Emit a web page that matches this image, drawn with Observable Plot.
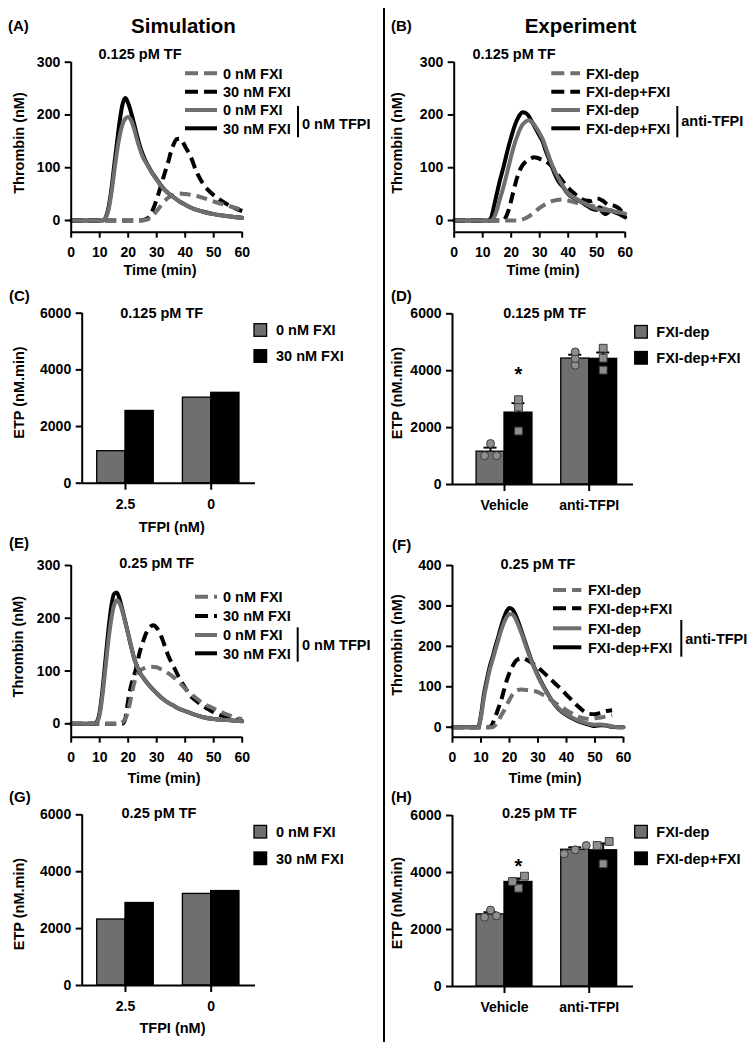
<!DOCTYPE html>
<html>
<head>
<meta charset="utf-8">
<script src="https://cdn.jsdelivr.net/npm/d3@7"></script>
<script src="https://cdn.jsdelivr.net/npm/@observablehq/plot@0.6"></script>
<style>
  body { margin: 0; background: #fff; }
  #fig { position: relative; width: 756px; height: 1050px; overflow: hidden; background: #fff; }
  #fig .panel { position: absolute; }
</style>
</head>
<body>
<div id="fig"></div>
<script>
// ---------------- tick labels ----------------
const timeTicks = [0, 10, 20, 30, 40, 50, 60];
const thrombinTicks300 = [0, 100, 200, 300];
const thrombinTicks400 = [0, 100, 200, 300, 400];
const etpTicks = [0, 2000, 4000, 6000];

// ---------------- categories ----------------
const simGroups = ["2.5", "0"];              // TFPI (nM)
const simSeries = ["0 nM FXI", "30 nM FXI"];
const expGroups = ["Vehicle", "anti-TFPI"];
const expSeries = ["FXI-dep", "FXI-dep+FXI"];

// ---------------- (A) simulation, 0.125 pM TF : [time (min), thrombin (nM)] ----------------
const A_0FXI = [[0,0],[24,0],[26,1],[28,6],[30,18],[32,32],[34,43],[36,49],[38,51],[40,50],[45,45],[50,36],[55,28],[60,20]];
const A_30FXI = [[0,0],[24,0],[26,2],[28,12],[29,25],[30,40],[31,57],[32,75],[33,93],[34,110],[35,130],[36,145],[37,154],[38,155],[39,150],[40,140],[42,120],[44,92],[46,72],[48,58],[50,48],[52,40],[55,30],[58,22],[60,18]];
const A_0FXI_noTFPI = [[0,0],[11,0],[12,4],[13,18],[14,48],[15,88],[16,128],[17,160],[18,182],[19,193],[20,196],[21,190],[22,175],[23,155],[24,137],[25,122],[26,112],[27,103],[28,93],[30,77],[32,62],[34,52],[36,44],[38,36],[40,30],[43,22],[46,17],[50,12],[55,8],[60,5]];
const A_30FXI_noTFPI = [[0,0],[11,0],[12,5],[13,22],[14,55],[15,100],[16,145],[17,188],[18,220],[19,232],[20,222],[21,205],[22,185],[23,163],[24,143],[25,127],[26,114],[27,104],[28,94],[30,78],[32,63],[34,52],[36,44],[38,36],[40,30],[43,22],[46,17],[50,12],[55,8],[60,5]];

// ---------------- (B) experiment, 0.125 pM TF ----------------
const B_FXIdep = [[0,0],[22,0],[24,2],[26,7],[28,15],[30,24],[32,31],[34,36],[36,39],[38,40],[40,38],[42,35],[44,32],[46,30],[48,28],[50,26],[52,24],[54,20],[56,18],[58,15],[60,12]];
const B_FXIdepFXI = [[0,0],[17,0],[18,5],[19,18],[20,38],[21,60],[22,80],[23,95],[24,105],[25,111],[26,115],[27,118],[28,120],[29,119],[30,117],[32,113],[34,104],[36,90],[38,75],[40,62],[42,52],[44,43],[46,38],[48,37],[50,42],[52,38],[54,30],[56,28],[58,22],[60,6]];
const B_FXIdep_antiTFPI = [[0,0],[13,0],[14,6],[15,20],[16,40],[17,58],[18,78],[19,100],[20,122],[21,142],[22,158],[23,172],[24,182],[25,187],[26,190],[27,188],[28,182],[29,174],[30,165],[31,155],[32,140],[33,125],[34,110],[35,97],[36,86],[37,76],[38,67],[39,58],[40,51],[42,44],[44,37],[46,32],[48,26],[50,22],[52,20],[54,19],[56,17],[58,15],[60,13]];
const B_FXIdepFXI_antiTFPI = [[0,0],[12,0],[13,6],[14,28],[15,52],[16,75],[17,95],[18,117],[19,139],[20,158],[21,176],[22,190],[23,200],[24,205],[25,204],[26,199],[27,190],[28,180],[29,170],[30,160],[31,150],[32,134],[33,120],[34,106],[35,92],[36,80],[37,71],[38,65],[39,57],[40,50],[42,43],[44,37],[46,30],[48,23],[50,20],[51,25],[52,16],[53,12],[54,15],[55,19],[56,16],[58,12],[60,6]];

// ---------------- (C) simulation ETP, 0.125 pM TF (per TFPI group) ----------------
const C_0FXI = [1130, 3020];
const C_30FXI = [2550, 3190];

// ---------------- (D) experiment ETP, 0.125 pM TF : replicates per group ----------------
const D_FXIdep = [[1010, 1010, 1440], [4190, 4430, 4660]];
const D_FXIdepFXI = [[1880, 2720, 2980], [4020, 4440, 4790]];
const D_sig = [{group: 0, series: 1, y: 3850, label: "*"}];

// ---------------- (E) simulation, 0.25 pM TF ----------------
const E_0FXI = [[0,0],[17,0],[18,3],[19,10],[20,25],[21,50],[22,75],[23,92],[24,100],[26,106],[28,108],[30,107],[32,102],[34,96],[36,88],[38,78],[40,67],[42,57],[44,48],[46,40],[48,34],[50,29],[52,24],[54,19],[56,15],[58,11],[60,9]];
const E_30FXI = [[0,0],[18,0],[19,10],[20,45],[21,72],[22,90],[23,110],[24,135],[25,152],[26,168],[27,178],[28,185],[29,187],[30,182],[31,173],[32,160],[33,145],[34,130],[36,108],[38,86],[40,68],[42,52],[44,43],[46,35],[48,28],[50,22],[52,17],[54,14],[56,10],[58,8],[60,5]];
const E_0FXI_noTFPI = [[0,0],[8,0],[9,3],[10,18],[11,55],[12,105],[13,155],[14,196],[15,224],[16,234],[17,228],[18,212],[19,192],[20,170],[21,148],[22,125],[23,110],[24,98],[26,82],[28,69],[30,58],[32,48],[34,40],[36,34],[38,28],[40,24],[43,18],[46,13],[50,9],[55,7],[60,5]];
const E_30FXI_noTFPI = [[0,0],[8,0],[9,4],[10,22],[11,65],[12,120],[13,175],[14,220],[15,246],[16,249],[17,236],[18,215],[19,193],[20,170],[21,147],[22,126],[23,110],[24,98],[26,82],[28,69],[30,58],[32,48],[34,40],[36,34],[38,28],[40,24],[43,18],[46,13],[50,9],[55,7],[60,5]];

// ---------------- (F) experiment, 0.25 pM TF ----------------
const F_FXIdep = [[0,0],[14,0],[15,5],[16,15],[17,28],[18,40],[19,55],[20,68],[21,80],[22,88],[23,92],[24,93],[26,92],[28,90],[30,87],[32,79],[34,70],[36,60],[38,52],[40,42],[42,34],[44,26],[46,22],[48,20],[50,22],[52,24],[54,27],[56,30]];
const F_FXIdepFXI = [[0,0],[13,0],[14,8],[15,25],[16,45],[17,65],[18,90],[19,115],[20,135],[21,150],[22,162],[23,168],[24,170],[25,170],[26,167],[28,158],[30,148],[32,135],[34,122],[36,108],[38,95],[40,80],[42,66],[44,52],[46,40],[48,33],[50,32],[52,36],[54,40],[56,42]];
const F_FXIdep_antiTFPI = [[0,0],[9,0],[10,25],[11,72],[12,108],[13,140],[14,165],[15,190],[16,214],[17,238],[18,258],[19,272],[20,280],[21,279],[22,270],[23,254],[24,236],[26,196],[28,158],[30,125],[32,98],[34,75],[36,56],[38,42],[40,32],[42,24],[44,17],[46,12],[48,8],[50,6],[52,7],[54,5],[56,2],[58,0],[60,0]];
const F_FXIdepFXI_antiTFPI = [[0,0],[9,0],[10,30],[11,80],[12,116],[13,148],[14,172],[15,198],[16,222],[17,248],[18,270],[19,287],[20,295],[21,292],[22,280],[23,262],[24,242],[26,200],[28,160],[30,128],[32,100],[34,76],[36,55],[38,40],[40,30],[42,22],[44,15],[46,10],[48,6],[50,3],[52,5],[54,4],[56,1],[58,0],[60,0]];

// ---------------- (G) simulation ETP, 0.25 pM TF ----------------
const G_0FXI = [2320, 3220];
const G_30FXI = [2900, 3320];

// ---------------- (H) experiment ETP, 0.25 pM TF ----------------
const H_FXIdep = [[2430, 2680, 2480], [4655, 4947, 4795]];
const H_FXIdepFXI = [[3871, 3450, 3684], [5088, 4947, 4304]];
const H_sig = [{group: 0, series: 1, y: 4200, label: "*"}];

// ================= rendering =================
const FONT = "'Liberation Sans', Arial, Helvetica, sans-serif";
const GREY = "#6f6f6f";
const BLACK = "#000000";
const PT_FILL = "#8e8e8e";
const PT_STROKE = "#3a3a3a";
const fig = document.getElementById("fig");
const plotStyle = `font-family: ${FONT}; font-size: 14px; font-weight: bold; color: #000; background: none; overflow: visible;`;

function place(svg, left, top, width, height) {
  const div = document.createElement("div");
  div.className = "panel";
  div.style.left = left + "px";
  div.style.top = top + "px";
  div.style.width = width + "px";
  div.style.height = height + "px";
  div.appendChild(svg);
  fig.appendChild(div);
}

function linePanel(c) {
  const {left, top, width, height, fx0, fx1, fy0, fy1, yDomain, yTicks, series} = c;
  const marks = series.map(s => Plot.line(s.data, {
    x: d => d[0], y: d => d[1], stroke: s.color, strokeWidth: 4,
    curve: "monotone-x",
    ...(s.dash ? {strokeDasharray: "11,6", strokeLinecap: "butt"} : {})
  }));
  marks.push(
    Plot.ruleX([0], {y1: () => yDomain[0], y2: () => yDomain[1], strokeWidth: 2}),
    Plot.ruleY([yDomain[0]], {x1: () => 0, x2: () => 60, strokeWidth: 2}),
    Plot.axisY(yTicks, {tickSize: 6, tickPadding: 5, strokeWidth: 2, label: null, tickFormat: d => String(d), fontSize: 14, fontWeight: "bold"}),
    Plot.axisX(timeTicks, {tickSize: 6, tickPadding: 9, strokeWidth: 2, label: null, tickFormat: d => String(d), fontSize: 14, fontWeight: "bold"})
  );
  const svg = Plot.plot({
    width, height,
    marginLeft: fx0 - left, marginRight: left + width - fx1,
    marginTop: fy0 - top, marginBottom: top + height - fy1,
    x: {domain: [0, 60]},
    y: {domain: yDomain},
    style: plotStyle,
    marks
  });
  place(svg, left, top, width, height);
}

function swarmOffsets(values, pxY) {
  const idx = values.map((v, i) => i).sort((a, b) => values[a] - values[b]);
  const clusters = [];
  let cur = [];
  idx.forEach(i => {
    if (cur.length && (values[i] - values[cur[cur.length - 1]]) * pxY >= 5.5) { clusters.push(cur); cur = []; }
    cur.push(i);
  });
  if (cur.length) clusters.push(cur);
  const off = new Array(values.length).fill(0);
  clusters.forEach(cl => cl.forEach((i, j) => { off[i] = (j - (cl.length - 1) / 2) * (cl.length > 2 ? 11 : 12); }));
  return off;
}

function barPanel(c) {
  const {left, top, width, height, fx0, fx1, fy0, fy1, groups, values, reps, sig, xDomain} = c;
  const BW = 0.33;
  const pxX = (fx1 - fx0) / (xDomain[1] - xDomain[0]);
  const pxY = (fy1 - fy0) / 6000;
  const rows = [];
  groups.forEach((g, gi) => [0, 1].forEach(si => {
    const r = reps ? reps[si][gi] : null;
    const mean = r ? d3.mean(r) : values[si][gi];
    const sem = r ? d3.deviation(r) / Math.sqrt(r.length) : 0;
    rows.push({gi, si, mean, sem, reps: r, center: gi + (si - 0.5) * BW});
  }));
  const rectOpts = {x1: d => d.gi + (d.si - 1) * BW, x2: d => d.gi + d.si * BW, y1: () => 0, y2: d => d.mean, stroke: BLACK, strokeWidth: 1.3};
  const marks = [
    Plot.rect(rows.filter(d => d.si === 0), {...rectOpts, fill: GREY}),
    Plot.rect(rows.filter(d => d.si === 1), {...rectOpts, fill: BLACK})
  ];
  if (reps) {
    const capHalf = 6.5 / pxX;
    marks.push(
      Plot.ruleX(rows, {x: d => d.center, y1: d => d.mean, y2: d => d.mean + d.sem, stroke: BLACK, strokeWidth: 2}),
      Plot.ruleY(rows, {y: d => d.mean + d.sem, x1: d => d.center - capHalf, x2: d => d.center + capHalf, stroke: BLACK, strokeWidth: 2})
    );
    const pts = rows.flatMap(r => {
      const off = swarmOffsets(r.reps, pxY);
      return r.reps.map((v, k) => ({x: r.center + off[k] / pxX, v, si: r.si}));
    });
    marks.push(
      Plot.dot(pts.filter(p => p.si === 0), {x: "x", y: "v", r: 4, fill: PT_FILL, stroke: PT_STROKE, strokeWidth: 1}),
      Plot.dot(pts.filter(p => p.si === 1), {x: "x", y: "v", r: 4.4, symbol: "square", fill: PT_FILL, stroke: PT_STROKE, strokeWidth: 1})
    );
  }
  if (sig) {
    marks.push(Plot.text(sig, {x: d => d.group + (d.series - 0.5) * BW, y: d => d.y, text: d => d.label, fontSize: 20, fontWeight: "bold", fill: BLACK}));
  }
  marks.push(
    Plot.ruleX([xDomain[0]], {y1: () => 0, y2: () => 6000, strokeWidth: 2}),
    Plot.ruleY([0], {x1: () => xDomain[0], x2: () => xDomain[1], strokeWidth: 2}),
    Plot.axisY(etpTicks, {tickSize: 6, tickPadding: 5, strokeWidth: 2, label: null, tickFormat: d => String(d), fontSize: 14, fontWeight: "bold"}),
    Plot.axisX(groups.map((g, i) => i), {tickSize: 7, tickPadding: 9, strokeWidth: 2, label: null, tickFormat: i => groups[i], fontSize: 14, fontWeight: "bold"})
  );
  const svg = Plot.plot({
    width, height,
    marginLeft: fx0 - left, marginRight: left + width - fx1,
    marginTop: fy0 - top, marginBottom: top + height - fy1,
    x: {domain: xDomain},
    y: {domain: [0, 6000]},
    style: plotStyle,
    marks
  });
  place(svg, left, top, width, height);
}

// ---- line panels ----
linePanel({left: 0, top: 45, width: 260, height: 235, fx0: 70.7, fx1: 241.7, fy0: 61.7, fy1: 231.7,
  yDomain: [-22.2, 300], yTicks: thrombinTicks300,
  series: [
    {data: A_30FXI, color: BLACK, dash: true},
    {data: A_0FXI, color: GREY, dash: true},
    {data: A_30FXI_noTFPI, color: BLACK},
    {data: A_0FXI_noTFPI, color: GREY}
  ]});
linePanel({left: 378, top: 45, width: 270, height: 235, fx0: 453.7, fx1: 624.7, fy0: 61.7, fy1: 231.7,
  yDomain: [-22.2, 300], yTicks: thrombinTicks300,
  series: [
    {data: B_FXIdepFXI, color: BLACK, dash: true},
    {data: B_FXIdep, color: GREY, dash: true},
    {data: B_FXIdepFXI_antiTFPI, color: BLACK},
    {data: B_FXIdep_antiTFPI, color: GREY}
  ]});
linePanel({left: 0, top: 550, width: 260, height: 230, fx0: 70.7, fx1: 241.7, fy0: 565, fy1: 736.7,
  yDomain: [-25.4, 300], yTicks: thrombinTicks300,
  series: [
    {data: E_30FXI, color: BLACK, dash: true},
    {data: E_0FXI, color: GREY, dash: true},
    {data: E_30FXI_noTFPI, color: BLACK},
    {data: E_0FXI_noTFPI, color: GREY}
  ]});
linePanel({left: 378, top: 550, width: 270, height: 230, fx0: 452, fx1: 623, fy0: 565, fy1: 736.7,
  yDomain: [-24.7, 400], yTicks: thrombinTicks400,
  series: [
    {data: F_FXIdepFXI, color: BLACK, dash: true},
    {data: F_FXIdep, color: GREY, dash: true},
    {data: F_FXIdepFXI_antiTFPI, color: BLACK},
    {data: F_FXIdep_antiTFPI, color: GREY}
  ]});

// ---- bar panels ----
barPanel({left: 0, top: 300, width: 270, height: 220, fx0: 81.7, fx1: 255, fy0: 312.7, fy1: 482.7,
  groups: simGroups, values: [C_0FXI, C_30FXI], xDomain: [-0.505, 1.517]});
barPanel({left: 378, top: 300, width: 270, height: 220, fx0: 452, fx1: 633, fy0: 313.3, fy1: 484,
  groups: expGroups, reps: [D_FXIdep, D_FXIdepFXI], sig: D_sig, xDomain: [-0.614, 1.523]});
barPanel({left: 0, top: 800, width: 270, height: 230, fx0: 81.7, fx1: 255, fy0: 814.3, fy1: 985,
  groups: simGroups, values: [G_0FXI, G_30FXI], xDomain: [-0.505, 1.517]});
barPanel({left: 378, top: 800, width: 270, height: 230, fx0: 452, fx1: 633, fy0: 815, fy1: 986,
  groups: expGroups, reps: [H_FXIdep, H_FXIdepFXI], sig: H_sig, xDomain: [-0.614, 1.523]});

// ================= overlay: titles, labels, legends =================
const ov = d3.select(fig).append("svg")
  .attr("width", 756).attr("height", 1050)
  .style("position", "absolute").style("left", "0px").style("top", "0px")
  .style("font-family", FONT).style("font-weight", "bold");

function T(x, y, s, size, anchor = "start", rot = 0) {
  const t = ov.append("text").attr("x", x).attr("y", y).attr("font-size", size)
    .attr("text-anchor", anchor).attr("fill", "#000").text(s);
  if (rot) t.attr("transform", `rotate(${rot},${x},${y})`);
}
function L(x1, y1, x2, y2, color, w, dash) {
  const l = ov.append("line").attr("x1", x1).attr("y1", y1).attr("x2", x2).attr("y2", y2)
    .attr("stroke", color).attr("stroke-width", w);
  if (dash) l.attr("stroke-dasharray", dash);
}

// divider
L(384, 8, 384, 1042, "#000", 2);

// column headers
T(183.5, 32.5, "Simulation", 20.5, "middle");
T(580.5, 32.5, "Experiment", 20.5, "middle");

// panel letters
T(8, 30.7, "(A)", 15); T(391, 30.7, "(B)", 15);
T(9, 300.5, "(C)", 15); T(391, 300.5, "(D)", 15);
T(9, 548, "(E)", 15); T(392, 550, "(F)", 15);
T(9, 801.7, "(G)", 15); T(391, 801.7, "(H)", 15);

// subtitles
const FS = 14.5;
T(140, 59.3, "0.125 pM TF", FS, "middle"); T(514, 59.3, "0.125 pM TF", FS, "middle");
T(161.7, 317.5, "0.125 pM TF", FS, "middle"); T(544.7, 318, "0.125 pM TF", FS, "middle");
T(156.7, 568, "0.25 pM TF", FS, "middle"); T(538, 569, "0.25 pM TF", FS, "middle");
T(159, 818, "0.25 pM TF", FS, "middle"); T(539.5, 818, "0.25 pM TF", FS, "middle");

// axis titles
T(23.5, 143, "Thrombin (nM)", FS, "middle", -90); T(402, 143, "Thrombin (nM)", FS, "middle", -90);
T(23.5, 392.5, "ETP (nM.min)", FS, "middle", -90); T(402, 393, "ETP (nM.min)", FS, "middle", -90);
T(23.5, 646.7, "Thrombin (nM)", FS, "middle", -90); T(402, 645, "Thrombin (nM)", FS, "middle", -90);
T(23.5, 904, "ETP (nM.min)", FS, "middle", -90); T(402, 903, "ETP (nM.min)", FS, "middle", -90);
T(160, 275, "Time (min)", FS, "middle"); T(543, 275, "Time (min)", FS, "middle");
T(171.7, 532, "TFPI (nM)", FS, "middle");
T(164, 782.5, "Time (min)", FS, "middle"); T(545, 782.5, "Time (min)", FS, "middle");
T(172.5, 1033, "TFPI (nM)", FS, "middle");

// line legends
function lineLegend(rows, x0, x1, tx, labels, bx, by0, by1, bl, blx, bly) {
  const styles = [{c: GREY, d: "13,6"}, {c: BLACK, d: "13,6"}, {c: GREY, d: null}, {c: BLACK, d: null}];
  styles.forEach((s, i) => {
    L(x0, rows[i], x1, rows[i], s.c, 4, s.d);
    T(tx, rows[i] + 5.2, labels[i], FS);
  });
  L(bx, by0, bx, by1, "#000", 2);
  T(blx, bly, bl, FS);
}
const simLegend = [simSeries[0], simSeries[1], simSeries[0], simSeries[1]];
const expLegend = [expSeries[0], expSeries[1], expSeries[0], expSeries[1]];
lineLegend([73.3, 91.7, 110, 128.3], 185, 217, 223, simLegend, 298, 106, 137.3, "0 nM TFPI", 302, 128.5);
lineLegend([73.3, 91.7, 110, 128.3], 551.3, 580, 586, expLegend, 677.3, 106, 137.3, "anti-TFPI", 681.3, 126);
lineLegend([596.7, 616, 635, 653.3], 195, 217, 223, simLegend, 297.7, 627.3, 661.7, "0 nM TFPI", 302, 650);
lineLegend([590, 608.3, 628.3, 647.3], 553, 581.3, 588, expLegend, 681.3, 620, 656.7, "anti-TFPI", 685.3, 643.5);

// bar legends
function barLegend(x, rows, tx, labels) {
  [GREY, BLACK].forEach((c, i) => {
    ov.append("rect").attr("x", x).attr("y", rows[i] - 6.3).attr("width", 12.6).attr("height", 12.6)
      .attr("fill", c).attr("stroke", "#000").attr("stroke-width", 1.3);
    T(tx, rows[i] + 5.2, labels[i], FS);
  });
}
barLegend(254, [330, 356], 276, simSeries);
barLegend(634.7, [331.8, 357.8], 656.3, expSeries);
barLegend(254, [831.7, 858.3], 276, simSeries);
barLegend(634.7, [831.7, 858.3], 656.3, expSeries);
</script>
</body>
</html>
